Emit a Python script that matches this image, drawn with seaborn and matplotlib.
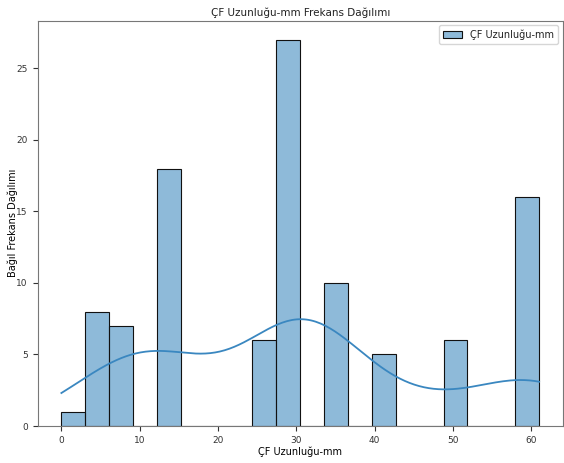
import numpy as np
import pandas as pd
import seaborn as sns
import matplotlib
matplotlib.use("Agg")
import matplotlib.pyplot as plt

# measured values (mm) and how often each occurs
lengths = [0, 5, 8, 14, 26, 30, 35, 41, 50, 60, 61]
counts = [1, 8, 7, 18, 6, 27, 10, 5, 6, 8, 8]

col = "ÇF Uzunluğu-mm"
df = pd.DataFrame({col: np.repeat(lengths, counts)})

plt.rcParams['font.family'] = ['DejaVu Sans']
plt.rcParams['font.size'] = 7
plt.rcParams['text.color'] = '#222222'
fig = plt.figure(figsize=(5.64, 4.63), dpi=100)
ax = fig.add_axes([37.5/564, 1 - 426/463, (563-37.5)/564, (426-20.5)/463])
sns.histplot(data=df, kde=True, bins=20, ax=ax, linewidth=0.8,
             line_kws={'linewidth': 1.3}, edgecolor='#111111')
ax.set_title("ÇF Uzunluğu-mm Frekans Dağılımı", fontsize=7.5, pad=3.5)
ax.set_xlabel("ÇF Uzunluğu-mm", fontsize=7, labelpad=1.5)
ax.set_ylabel("Bağıl Frekans Dağılımı", fontsize=7, labelpad=-1)
ax.tick_params(labelsize=6.5, colors='#333333', width=0.8)
for s in ax.spines.values():
    s.set_color("#777777")
for ln in ax.lines:
    ln.set_color('#3a87c0')
fig.savefig("out.png", dpi=100)
